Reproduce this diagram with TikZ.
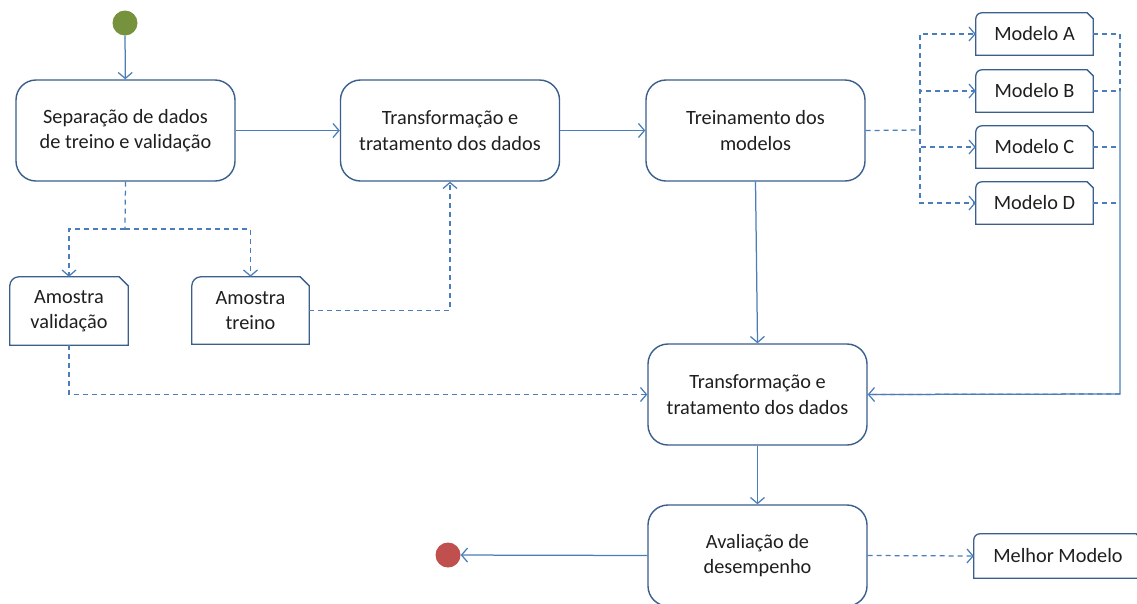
\documentclass[tikz,border=0pt]{standalone}
\usepackage{fontspec}
\setmainfont{Carlito}
\usetikzlibrary{arrows.meta}
\definecolor{ln}{HTML}{4A7EBB}
\definecolor{bd}{HTML}{3A5F8C}
\definecolor{startc}{HTML}{76923C}
\definecolor{endc}{HTML}{C0504D}
\newcommand\docoutline[3]{%
  \draw[bd, line width=1.3pt] (#1.south east) -- (#1.south west) -- ([yshift=-#2]#1.north west)
    arc[start angle=180, end angle=90, radius=#2] -- ([xshift=-#3]#1.north east)
    -- ([yshift=-#3]#1.north east) -- cycle;}
\begin{document}
\begin{tikzpicture}[x=1pt,y=-1pt,
  every node/.style={font=\fontsize{20.3}{25.5}\selectfont, text=black!88},
  act/.style={draw=bd, line width=1.4pt, rounded corners=20pt, minimum width=219pt,
    minimum height=101pt, align=center, inner sep=0pt},
  docbox/.style={inner sep=0pt, align=center},
  dot/.style={circle, inner sep=0pt, minimum size=25pt},
  flow/.style={draw=ln, line width=1.25pt, -{Straight Barb[length=6pt,width=14pt]}},
  dflow/.style={flow, dash pattern=on 5pt off 4pt},
  dline/.style={draw=ln, line width=1.25pt, dash pattern=on 5pt off 4pt},
]
\clip (0,0) rectangle (1137,603);
\fill[white] (0,0) rectangle (1137,603);

% start / end
\node[dot, fill=startc] (start) at (125,23) {};
\node[dot, fill=endc] (end) at (448,555) {};

% activities
\node[act] (sep) at (125.5,130.5) {Separação de dados\\de treino e validação};
\node[act] (tr1) at (450,130.5) {Transformação e\\tratamento dos dados};
\node[act] (trn) at (755.5,130.5) {Treinamento dos\\modelos};
\node[act] (tr2) at (757.5,394.5) {Transformação e\\tratamento dos dados};
\node[act] (aval) at (757.5,555.5) {Avaliação de\\desempenho};

% documents
\node[docbox, minimum width=118pt, minimum height=68pt] (av) at (69,311) {Amostra\\validação};
\node[docbox, minimum width=117pt, minimum height=67pt] (at) at (250.5,310.5) {Amostra\\treino};
\docoutline{av}{9pt}{9pt}
\docoutline{at}{9pt}{9pt}

\foreach \n/\y in {A/34,B/91,C/147,D/203}{
  \node[docbox, minimum width=117pt, minimum height=42pt] (m\n) at (1034.5,\y) {Modelo \n};
  \docoutline{m\n}{6pt}{6pt}
}
\node[docbox, minimum width=168pt, minimum height=44pt] (best) at (1058,556) {Melhor Modelo};
\docoutline{best}{6pt}{6pt}

% coordinates
\coordinate (split) at (125,229);
\coordinate (fork) at (920,130);
\coordinate (join) at (1120,394);

% connectors
\draw[flow] (start) -- (sep);
\draw[flow] (sep) -- (tr1);
\draw[flow] (tr1) -- (trn);
\draw[flow] (trn.south) -- (tr2.north);
\draw[flow] (tr2) -- (aval);
\draw[flow] (aval.west) -- (end);

\draw[dline] (sep.south) -- (split);
\draw[dflow] (split) -| (av.north);
\draw[dflow] (split) -| (at.north);
\draw[dflow] (at.east) -| (tr1.south);
\draw[dflow] (av.south) |- (tr2.west);

\draw[dline] (trn.east) -- (fork);
\foreach \n in {A,B,C,D}{
  \draw[dflow] (fork) |- (m\n.west);
  \draw[dline] (m\n.east) -- (m\n.east -| join);
}
\draw[dline] (mA.east -| join) -- (mB.east -| join);
\draw[flow] (mB.east -| join) -- (join) -- (tr2.east);
\draw[dline] (join) -- (tr2.east);

\draw[dflow] (aval.east) -- (best.west);
\end{tikzpicture}
\end{document}
